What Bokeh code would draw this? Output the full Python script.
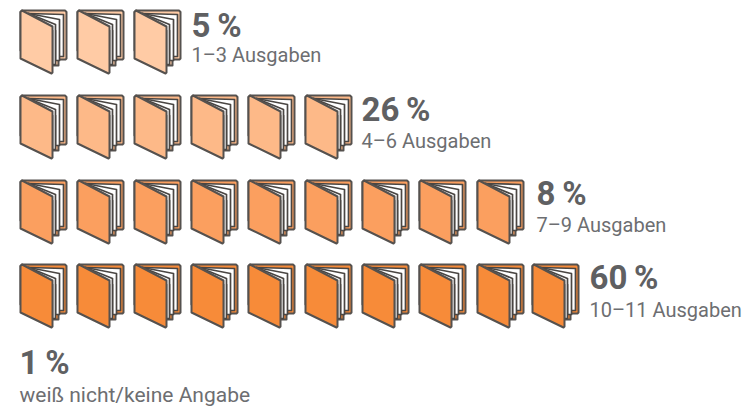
from bokeh.plotting import figure
from bokeh.models import Range1d
from bokeh.core.properties import value
from bokeh.embed import file_html
from bokeh.resources import INLINE

percent = ["5\u2009%", "26\u2009%", "8\u2009%", "60\u2009%", "1\u2009%"]
labels = ["1–3 Ausgaben", "4–6 Ausgaben", "7–9 Ausgaben", "10–11 Ausgaben", "weiß nicht/keine Angabe"]
counts = [3, 6, 9, 10]
colors = ["#FFCBA5", "#FDB988", "#FB9F5F", "#F78B39"]

# page-pixel layout of the infographic
row_top = [10, 95, 180, 264]
icon_left = [20, 77, 134, 191, 248, 305, 362, 419, 477, 532]
text_left = [191, 361, 536, 589, 19]
pct_mid = [25, 109, 193, 277, 362]
lab_mid = [54, 140, 224, 309, 394]
lab_size = ["20px", "20px", "20px", "20px", "21px"]

# icon template, px relative to the cover's top left corner
BACK = ([0, 1.5, 44.5, 46, 46, 45, 38, 38, 32, 0], [1.5, 0, 0, 1.5, 48, 49, 49, 55, 55, 40])
PAGE1 = ([8, 43, 43, 38, 38], [3, 4, 46, 46, 20])
PAGE2 = ([8, 39, 39, 35, 35], [3, 9, 50, 50, 20])
PAGE3 = ([8, 35, 35, 32, 32], [3, 14, 54, 54, 20])
FRONT = ([0, 1.5, 32, 32, 31, 0], [1.5, 0, 16, 62, 63, 48])

p = figure(width=751, height=407, output_backend="svg", toolbar_location=None,
           x_range=Range1d(0, 751), y_range=Range1d(407, 0), min_border=0,
           outline_line_color=None, background_fill_color="white")
p.axis.visible = False
p.grid.visible = False

def layer(shape, fills, line, width):
    xs, ys, cs = [], [], []
    for top, n, c in zip(row_top, counts, colors):
        for left in icon_left[:n]:
            xs.append([left + v for v in shape[0]])
            ys.append([top + v for v in shape[1]])
            cs.append(c if fills is None else fills)
    p.patches(xs, ys, fill_color=cs, line_color=line, line_width=width, line_join="round")

layer(BACK, None, "#55514E", 2)
layer(PAGE1, "#FFFFFF", "#4A4643", 1.7)
layer(PAGE2, "#FFFFFF", "#4A4643", 1.7)
layer(PAGE3, "#FFFFFF", "#4A4643", 1.7)
layer(FRONT, None, "#55514E", 2)

p.text(text_left, pct_mid, text=percent, text_font=value("Roboto"), text_font_style="bold",
       text_font_size="33px", text_color="#5F6062", text_baseline="middle")
for x, y, t, s in zip(text_left, lab_mid, labels, lab_size):
    p.text([x], [y], text=[t], text_font=value("Roboto"),
           text_font_size=s, text_color="#6D6E71", text_baseline="middle")

open("out.html", "w").write(file_html(p, INLINE))
